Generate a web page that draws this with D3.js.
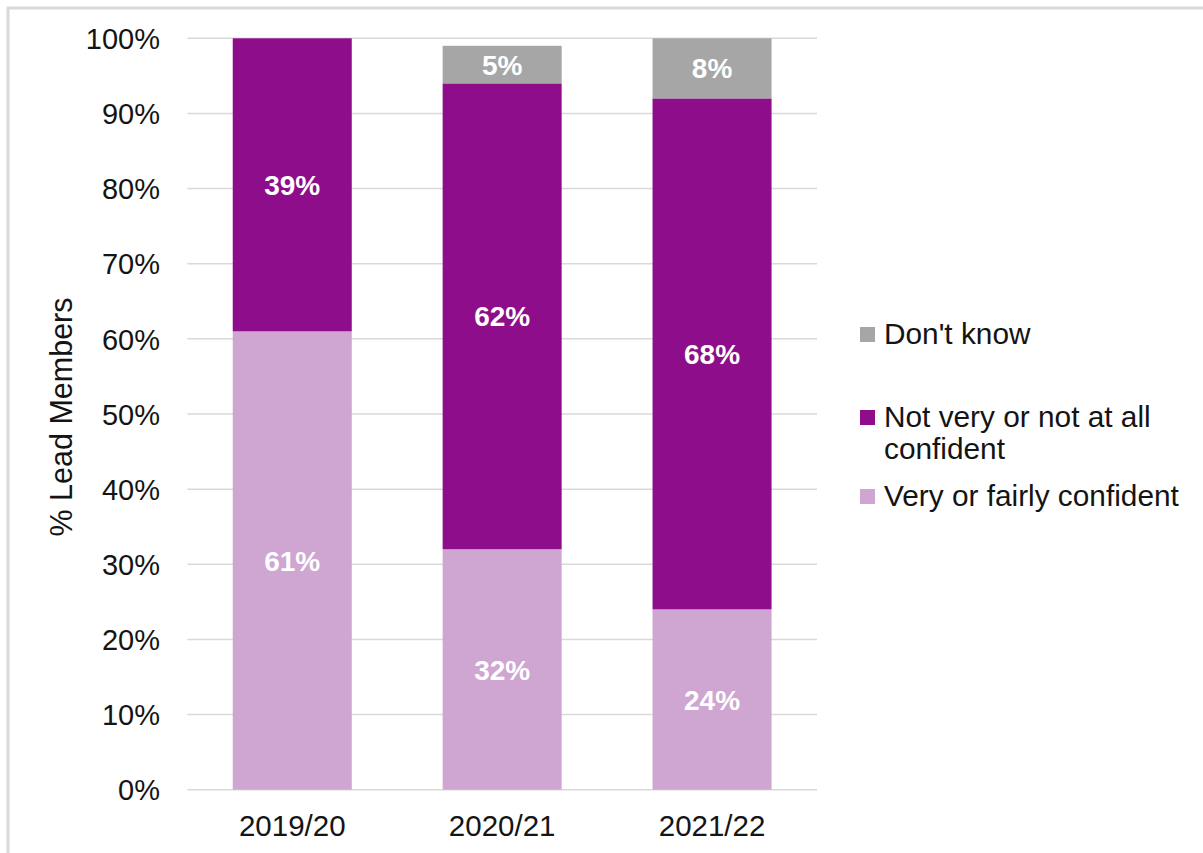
<!DOCTYPE html>
<html>
<head>
<meta charset="utf-8">
<script src="https://cdn.jsdelivr.net/npm/d3@7"></script>
<style>
  html, body { margin: 0; padding: 0; background: #ffffff; }
  svg { display: block; font-family: "Liberation Sans", Arial, sans-serif; }
</style>
</head>
<body>
<svg id="chart" width="1203" height="853"></svg>
<script>
// Survey years on the x axis
const years = ["2019/20", "2020/21", "2021/22"];

// Share of lead members per answer, in percent (bottom to top of each stack)
const veryOrFairlyConfident = [61, 32, 24];
const notVeryOrNotAtAll = [39, 62, 68];
const dontKnow = [0, 5, 8];

// Y axis ticks (percent)
const yTicks = [0, 10, 20, 30, 40, 50, 60, 70, 80, 90, 100];

const seriesNames = ["Very or fairly confident", "Not very or not at all confident", "Don't know"];
const seriesColors = ["#CFA5D2", "#8E0D8A", "#A6A6A6"];

const rows = years.map((y, i) => ({
  year: y,
  s0: veryOrFairlyConfident[i],
  s1: notVeryOrNotAtAll[i],
  s2: dontKnow[i]
}));

const svg = d3.select("#chart");

// Outer frame (only its top and left edges fall inside the canvas)
svg.append("rect")
  .attr("x", 8).attr("y", 8)
  .attr("width", 1300).attr("height", 1000)
  .attr("fill", "none")
  .attr("stroke", "#D9D9D9")
  .attr("stroke-width", 3);

const plot = { left: 187.3, right: 817, top: 38.3, bottom: 789.7 };

const x = d3.scaleBand()
  .domain(years)
  .range([plot.left, plot.right])
  .paddingInner(0.433)
  .paddingOuter(0.2165);

const y = d3.scaleLinear()
  .domain([0, 100])
  .range([plot.bottom, plot.top]);

// Horizontal gridlines
svg.append("g")
  .selectAll("line")
  .data(yTicks)
  .join("line")
  .attr("x1", plot.left).attr("x2", plot.right)
  .attr("y1", d => y(d)).attr("y2", d => y(d))
  .attr("stroke", "#D9D9D9")
  .attr("stroke-width", 1.5);

// Y axis labels
const yAxis = d3.axisLeft(y)
  .tickValues(yTicks)
  .tickFormat(d => d + "%")
  .tickSize(0)
  .tickPadding(0);

const yAxisG = svg.append("g")
  .attr("transform", `translate(160,0)`)
  .call(yAxis);
yAxisG.select(".domain").remove();
yAxisG.selectAll("text")
  .attr("font-family", "Liberation Sans, Arial, sans-serif")
  .attr("font-size", 29)
  .attr("fill", "#141414")
  .attr("dy", "0.35em");

// X axis labels
const xAxis = d3.axisBottom(x).tickSize(0).tickPadding(0);
const xAxisG = svg.append("g")
  .attr("transform", `translate(0,${plot.bottom})`)
  .call(xAxis);
xAxisG.select(".domain").remove();
xAxisG.selectAll("text")
  .attr("font-family", "Liberation Sans, Arial, sans-serif")
  .attr("font-size", 29.5)
  .attr("fill", "#141414")
  .attr("dy", null)
  .attr("y", 46);

// Stacked bars
const stack = d3.stack().keys(["s0", "s1", "s2"]);
const stacked = stack(rows);

const layers = svg.append("g")
  .selectAll("g")
  .data(stacked)
  .join("g")
  .attr("fill", (d, i) => seriesColors[i]);

layers.selectAll("rect")
  .data(d => d.filter(p => p[1] - p[0] > 0))
  .join("rect")
  .attr("x", d => x(d.data.year))
  .attr("width", x.bandwidth())
  .attr("y", d => y(d[1]))
  .attr("height", d => y(d[0]) - y(d[1]));

// Value labels inside each segment
const labels = svg.append("g");
stacked.forEach(layer => {
  layer.forEach(p => {
    const v = p[1] - p[0];
    if (v <= 0) return;
    labels.append("text")
      .attr("x", x(p.data.year) + x.bandwidth() / 2)
      .attr("y", y((p[0] + p[1]) / 2))
      .attr("dy", "0.36em")
      .attr("text-anchor", "middle")
      .attr("font-size", 28)
      .attr("font-weight", "bold")
      .attr("fill", "#ffffff")
      .text(v + "%");
  });
});

// Y axis title
svg.append("text")
  .attr("transform", `translate(72,${(plot.top + plot.bottom) / 2 + 3}) rotate(-90)`)
  .attr("text-anchor", "middle")
  .attr("font-size", 30.5)
  .attr("fill", "#141414")
  .text("% Lead Members");

// Legend
const legendItems = [
  { color: seriesColors[2], lines: ["Don't know"], y: 344 },
  { color: seriesColors[1], lines: ["Not very or not at all", "confident"], y: 427 },
  { color: seriesColors[0], lines: ["Very or fairly confident"], y: 506 }
];

const legend = svg.append("g");
legendItems.forEach(item => {
  legend.append("rect")
    .attr("x", 860)
    .attr("y", item.y - 17)
    .attr("width", 15)
    .attr("height", 15)
    .attr("fill", item.color);
  const t = legend.append("text")
    .attr("x", 884)
    .attr("y", item.y)
    .attr("font-size", 29.8)
    .attr("fill", "#141414");
  item.lines.forEach((line, i) => {
    t.append("tspan")
      .attr("x", 884)
      .attr("dy", i === 0 ? 0 : 32)
      .text(line);
  });
});
</script>
</body>
</html>
